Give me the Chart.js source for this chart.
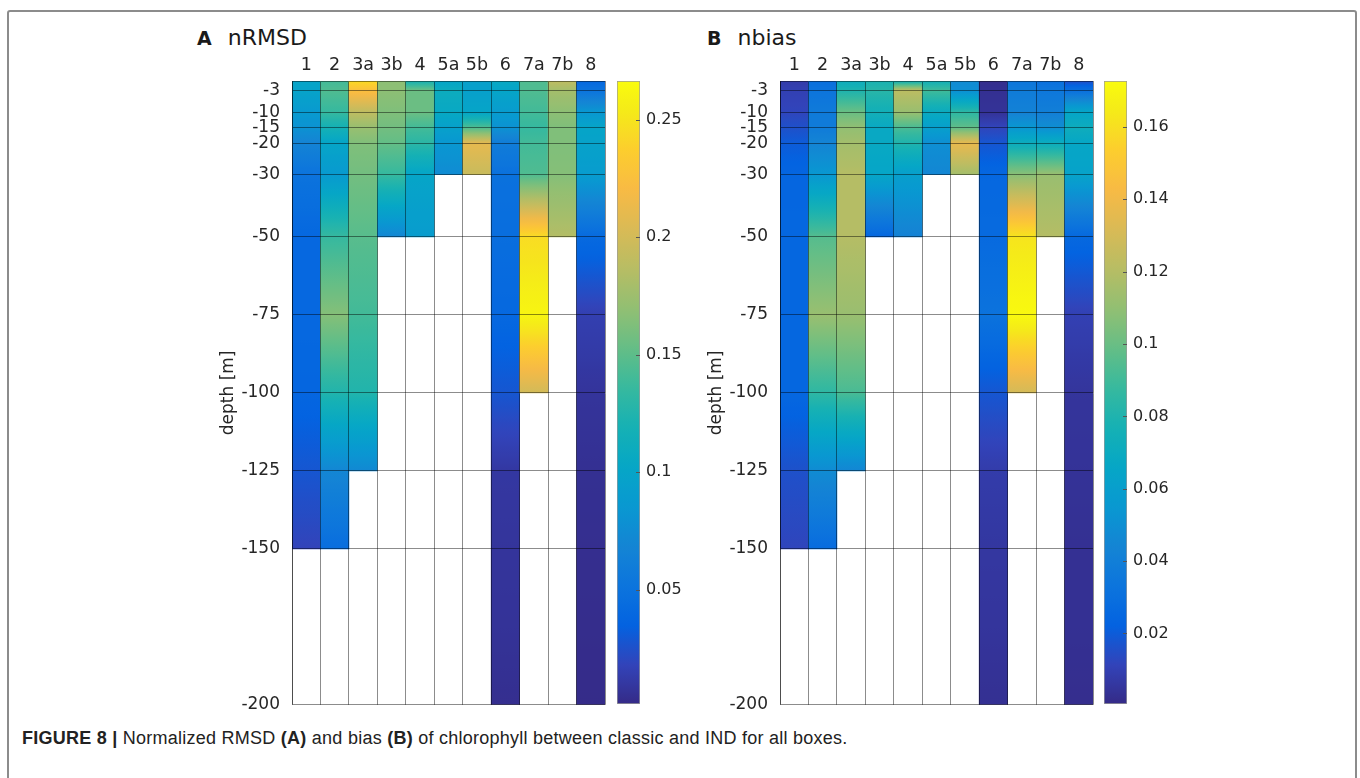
<!DOCTYPE html>
<html>
<head>
<meta charset="utf-8">
<script src="https://cdn.jsdelivr.net/npm/chart.js@4"></script>
<style>
body { margin: 0; background: #fff; width: 1360px; height: 778px; overflow: hidden; position: relative; font-family: "DejaVu Sans", sans-serif; color: #262626; }
.frame { position: absolute; left: 7px; top: 10px; width: 1346px; height: 800px; border: 2px solid #8c8c8c; border-radius: 3px; }
.box { position: absolute; }
.ttl { position: absolute; font-size: 22px; white-space: nowrap; color: #1a1a1a; }
.ttl b { font-size: 19px; margin-right: 16px; }
.cap { position: absolute; left: 22px; top: 728px; font-family: "Liberation Sans", Arial, sans-serif; font-size: 18px; letter-spacing: 0.25px; color: #222; white-space: nowrap; }
</style>
</head>
<body>
<div class="frame"></div>
<div class="ttl" style="left:197px;top:25px"><b>A</b>nRMSD</div>
<div class="ttl" style="left:707px;top:25px"><b>B</b>nbias</div>
<div class="box" style="left:190px;top:40px"><canvas id="mainA" width="430" height="687"></canvas></div>
<div class="box" style="left:600px;top:40px"><canvas id="barA" width="90" height="680"></canvas></div>
<div class="box" style="left:678px;top:40px"><canvas id="mainB" width="430" height="687"></canvas></div>
<div class="box" style="left:1087px;top:40px"><canvas id="barB" width="90" height="680"></canvas></div>
<div class="cap"><b>FIGURE 8 |</b> Normalized RMSD <b>(A)</b> and bias <b>(B)</b> of chlorophyll between classic and IND for all boxes.</div>

<script>
// boxes and depth levels (m)
const boxes = ['1', '2', '3a', '3b', '4', '5a', '5b', '6', '7a', '7b', '8'];
const depthLevels = [0, -3, -10, -15, -20, -30, -50, -75, -100, -125, -150, -175, -200];
const depthTicks = [-3, -10, -15, -20, -30, -50, -75, -100, -125, -150, -200];

// nRMSD profiles, one list per box, values at depthLevels (list ends at the box bottom)
const nrmsd = [
  [0.100, 0.098, 0.088, 0.080, 0.067, 0.050, 0.040, 0.040, 0.038, 0.028, 0.018],
  [0.140, 0.145, 0.135, 0.118, 0.100, 0.088, 0.135, 0.165, 0.125, 0.070, 0.045],
  [0.245, 0.225, 0.190, 0.172, 0.163, 0.158, 0.148, 0.140, 0.125, 0.072],
  [0.168, 0.168, 0.163, 0.158, 0.152, 0.135, 0.070],
  [0.120, 0.155, 0.155, 0.140, 0.130, 0.100, 0.090],
  [0.100, 0.110, 0.105, 0.095, 0.085, 0.075],
  [0.095, 0.095, 0.100, 0.145, 0.210, 0.195],
  [0.105, 0.100, 0.090, 0.080, 0.060, 0.048, 0.045, 0.040, 0.028, 0.010, 0.008, 0.007, 0.004],
  [0.145, 0.145, 0.140, 0.135, 0.140, 0.145, 0.245, 0.262, 0.200],
  [0.190, 0.178, 0.168, 0.163, 0.163, 0.165, 0.185],
  [0.040, 0.050, 0.085, 0.100, 0.097, 0.090, 0.042, 0.015, 0.008, 0.005, 0.004, 0.003, 0.002]
];

// nbias profiles
const nbias = [
  [0.008, 0.010, 0.012, 0.016, 0.020, 0.024, 0.025, 0.025, 0.025, 0.016, 0.012],
  [0.030, 0.033, 0.037, 0.038, 0.044, 0.055, 0.095, 0.112, 0.085, 0.048, 0.028],
  [0.072, 0.080, 0.100, 0.110, 0.115, 0.120, 0.120, 0.112, 0.092, 0.045],
  [0.078, 0.083, 0.075, 0.068, 0.068, 0.065, 0.025],
  [0.075, 0.122, 0.112, 0.092, 0.080, 0.060, 0.042],
  [0.075, 0.090, 0.070, 0.060, 0.050, 0.045],
  [0.048, 0.050, 0.085, 0.098, 0.137, 0.115],
  [0.002, 0.003, 0.004, 0.012, 0.018, 0.025, 0.027, 0.032, 0.018, 0.008, 0.006, 0.005, 0.003],
  [0.034, 0.038, 0.042, 0.055, 0.072, 0.108, 0.162, 0.172, 0.130],
  [0.030, 0.035, 0.040, 0.050, 0.072, 0.112, 0.120],
  [0.015, 0.030, 0.065, 0.072, 0.066, 0.063, 0.026, 0.010, 0.005, 0.004, 0.003, 0.003, 0.002]
];

// colour limits and colorbar ticks
const rangeA = [0.0013, 0.2665];
const rangeB = [0.0005, 0.1727];
const cbarTicksA = [0.05, 0.1, 0.15, 0.2, 0.25];
const cbarTicksB = [0.02, 0.04, 0.06, 0.08, 0.1, 0.12, 0.14, 0.16];

// parula (every 4th entry of the 64 colour map)
const parula = [
  [0.2081, 0.1663, 0.5292], [0.1959, 0.2645, 0.7279], [0.0117, 0.3875, 0.8820],
  [0.0498, 0.4586, 0.8641], [0.0793, 0.5200, 0.8312], [0.0343, 0.5966, 0.8199],
  [0.0228, 0.6535, 0.7768], [0.0843, 0.6928, 0.7062], [0.2178, 0.7250, 0.6193],
  [0.3953, 0.7459, 0.5244], [0.5709, 0.7485, 0.4494], [0.7184, 0.7411, 0.3905],
  [0.8507, 0.7299, 0.3360], [0.9739, 0.7314, 0.2666], [0.9880, 0.8066, 0.1794],
  [0.9599, 0.9218, 0.0948], [0.9763, 0.9831, 0.0538]
];
const parulaPos = [0, 4, 8, 12, 16, 20, 24, 28, 32, 36, 40, 44, 48, 52, 56, 60, 63].map(i => i / 63);

function cmap(v, range) {
  let f = (v - range[0]) / (range[1] - range[0]);
  f = Math.max(0, Math.min(1, f));
  let k = 0;
  while (k < parulaPos.length - 2 && f > parulaPos[k + 1]) k++;
  const t = (f - parulaPos[k]) / (parulaPos[k + 1] - parulaPos[k]);
  const c = parula[k].map((a, j) => Math.round(255 * (a + (parula[k + 1][j] - a) * t)));
  return `rgb(${c[0]},${c[1]},${c[2]})`;
}

const textColor = '#262626';
const gridColor = 'rgba(0,0,0,0.45)';

function columnGradient(context, profiles, range) {
  const chart = context.chart;
  if (!chart.chartArea) return 'rgba(0,0,0,0)';
  const y = chart.scales.y;
  const prof = profiles[context.dataIndex];
  const bottom = depthLevels[prof.length - 1];
  const y0 = y.getPixelForValue(0);
  const y1 = y.getPixelForValue(bottom);
  const g = chart.ctx.createLinearGradient(0, y0, 0, y1);
  for (let k = 0; k < prof.length - 1; k++) {
    const steps = 10;
    for (let s = 0; s <= steps; s++) {
      const t = s / steps;
      const d = depthLevels[k] + (depthLevels[k + 1] - depthLevels[k]) * t;
      const v = prof[k] + (prof[k + 1] - prof[k]) * t;
      const pos = (y.getPixelForValue(d) - y0) / (y1 - y0);
      g.addColorStop(Math.max(0, Math.min(1, pos)), cmap(v, range));
    }
  }
  return g;
}

function makeMain(id, profiles, range) {
  return new Chart(document.getElementById(id), {
    type: 'bar',
    data: {
      labels: boxes,
      datasets: [{
        data: profiles.map(p => [depthLevels[p.length - 1], 0]),
        backgroundColor: ctx => columnGradient(ctx, profiles, range),
        borderWidth: 0,
        barPercentage: 1,
        categoryPercentage: 1
      }]
    },
    options: {
      responsive: false,
      animation: false,
      layout: { padding: { left: 23, right: 15, top: 0, bottom: 16 } },
      plugins: { legend: { display: false }, tooltip: { enabled: false } },
      scales: {
        x: {
          position: 'top',
          offset: true,
          afterFit: s => { s.height = 41; },
          grid: { color: gridColor, z: 1, drawTicks: false, offset: true },
          border: { color: gridColor, z: 1 },
          ticks: { color: textColor, font: { family: 'DejaVu Sans', size: 17.5 }, padding: 5, maxRotation: 0, autoSkip: false }
        },
        y: {
          min: -200,
          max: 0,
          afterFit: s => { s.width = 79; },
          afterBuildTicks: s => { s.ticks = depthTicks.map(v => ({ value: v })); },
          grid: { color: gridColor, z: 1, drawTicks: false },
          border: { color: gridColor, z: 1 },
          ticks: { color: textColor, font: { family: 'DejaVu Sans', size: 17 }, padding: 12, callback: v => String(v) },
          title: { display: true, text: 'depth [m]', color: textColor, font: { family: 'DejaVu Sans', size: 17 }, padding: { top: 5, bottom: 0 } }
        }
      }
    }
  });
}

const cbarTickMarks = {
  id: 'cbarTickMarks',
  afterDatasetsDraw(chart) {
    const y = chart.scales.y;
    const ctx = chart.ctx;
    const r = chart.chartArea.right;
    ctx.save();
    ctx.strokeStyle = '#555';
    ctx.lineWidth = 1;
    y.ticks.forEach(t => {
      const py = Math.round(y.getPixelForValue(t.value)) + 0.5;
      ctx.beginPath();
      ctx.moveTo(r - 4, py);
      ctx.lineTo(r, py);
      ctx.stroke();
    });
    ctx.restore();
  }
};

function makeBar(id, range, ticks) {
  return new Chart(document.getElementById(id), {
    type: 'bar',
    data: {
      labels: [''],
      datasets: [{
        data: [[range[0], range[1]]],
        backgroundColor: context => {
          const chart = context.chart;
          if (!chart.chartArea) return 'rgba(0,0,0,0)';
          const y = chart.scales.y;
          const y0 = y.getPixelForValue(range[0]);
          const y1 = y.getPixelForValue(range[1]);
          const g = chart.ctx.createLinearGradient(0, y0, 0, y1);
          for (let s = 0; s <= 64; s++) {
            g.addColorStop(s / 64, cmap(range[0] + (range[1] - range[0]) * s / 64, range));
          }
          return g;
        },
        borderColor: '#9a9a9a',
        borderWidth: 1,
        borderSkipped: false,
        barPercentage: 1,
        categoryPercentage: 1
      }]
    },
    options: {
      responsive: false,
      animation: false,
      layout: { padding: { left: 17, right: 0, top: 41, bottom: 16 } },
      plugins: { legend: { display: false }, tooltip: { enabled: false } },
      scales: {
        x: { display: false },
        y: {
          position: 'right',
          min: range[0],
          max: range[1],
          afterFit: s => { s.width = 50; },
          afterBuildTicks: s => { s.ticks = ticks.map(v => ({ value: v })); },
          grid: { display: false, drawTicks: false },
          border: { display: false },
          ticks: { color: textColor, font: { family: 'DejaVu Sans', size: 16 }, padding: 6, callback: v => String(v) }
        }
      }
    },
    plugins: [cbarTickMarks]
  });
}

makeMain('mainA', nrmsd, rangeA);
makeBar('barA', rangeA, cbarTicksA);
makeMain('mainB', nbias, rangeB);
makeBar('barB', rangeB, cbarTicksB);
</script>
</body>
</html>
